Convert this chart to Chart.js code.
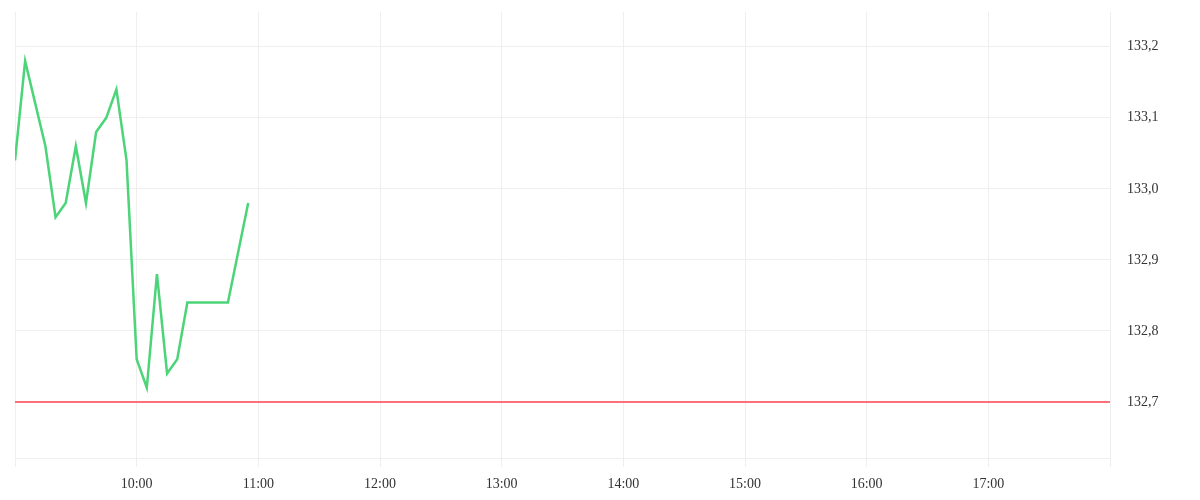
<!DOCTYPE html>
<html>
<head>
<meta charset="utf-8">
<style>
  html, body { margin: 0; padding: 0; background: #fff; }
  #wrap { width: 1200px; height: 500px; position: relative; }
</style>
<script src="https://cdn.jsdelivr.net/npm/chart.js@4/dist/chart.umd.min.js"></script>
</head>
<body>
<div id="wrap"><canvas id="priceChart" width="1200" height="500"></canvas></div>
<script>
// times in minutes since midnight, 5 minute steps from 9:00
var times = [540, 545, 550, 555, 560, 565, 570, 575, 580, 585, 590, 595,
             600, 605, 610, 615, 620, 625, 630, 635, 640, 645, 650, 655];
var prices = [133.04, 133.18, 133.12, 133.06, 132.96, 132.98, 133.06, 132.98, 133.08, 133.10, 133.14, 133.04,
              132.76, 132.72, 132.88, 132.74, 132.76, 132.84, 132.84, 132.84, 132.84, 132.84, 132.91, 132.98];
var refPrice = 132.7;
var dayStart = 540, dayEnd = 1080;
var yMin = 132.621, yMax = 133.249;

function hhmm(m) {
    var h = Math.floor(m / 60), mm = m % 60;
    return h + ':' + (mm < 10 ? '0' : '') + mm;
}

var pricePts = times.map(function(t, i) { return { x: t, y: prices[i] }; });
var refPts = [{ x: dayStart, y: refPrice }, { x: dayEnd, y: refPrice }];

var gridColor = '#efefef';
var tickFont = { family: '"Liberation Serif", serif', size: 14 };

function noPad(s) { s.paddingTop = 0; s.paddingBottom = 0; s.paddingLeft = 0; s.paddingRight = 0; }

new Chart(document.getElementById('priceChart'), {
    type: 'line',
    data: {
        datasets: [
            { data: refPts, borderColor: '#ff4650', borderWidth: 1.5, pointRadius: 0, tension: 0, fill: false, order: 2 },
            { data: pricePts, borderColor: 'rgb(76,212,121)', borderWidth: 2.5, pointRadius: 0, tension: 0, fill: false, order: 1 }
        ]
    },
    options: {
        responsive: false,
        animation: false,
        devicePixelRatio: 1,
        layout: { padding: { left: 15, top: 12, right: 0, bottom: 0 } },
        plugins: { legend: { display: false }, tooltip: { enabled: false } },
        scales: {
            x: {
                type: 'linear', min: dayStart, max: dayEnd,
                grid: { color: gridColor, tickLength: 9 },
                border: { color: gridColor },
                ticks: {
                    stepSize: 60, autoSkip: false, color: '#333', font: tickFont, maxRotation: 0, padding: 9,
                    callback: function(v) { return (v === dayStart || v === dayEnd) ? '' : hhmm(v); }
                },
                afterFit: function(s) { s.height = 42; noPad(s); }
            },
            y: {
                position: 'right', min: yMin, max: yMax,
                grid: { color: gridColor, drawTicks: false },
                border: { color: gridColor },
                ticks: {
                    autoSkip: false, color: '#333', font: tickFont, padding: 17,
                    callback: function(v) { return v.toFixed(1).replace('.', ','); }
                },
                afterBuildTicks: function(s) {
                    var t = [];
                    for (var i = 0; i <= 5; i++) t.push({ value: Math.round((132.7 + i * 0.1) * 10) / 10 });
                    s.ticks = t;
                },
                afterFit: function(s) { s.width = 90; noPad(s); }
            }
        }
    }
});
</script>
</body>
</html>
